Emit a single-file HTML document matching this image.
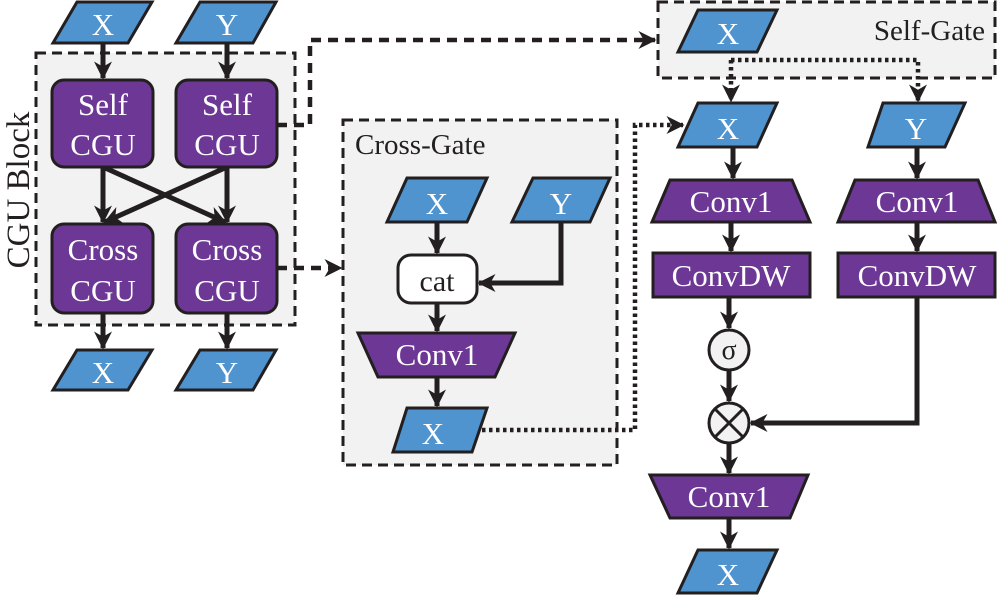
<!DOCTYPE html>
<html><head><meta charset="utf-8"><style>
html,body{margin:0;padding:0;background:#fff}
svg{display:block}
svg text{font-family:"Liberation Serif","Times New Roman","DejaVu Serif",serif}
</style></head><body>
<svg width="997" height="595" viewBox="0 0 997 595" xmlns="http://www.w3.org/2000/svg" font-family="'Liberation Serif', 'Times New Roman', 'DejaVu Serif', serif">
<defs>
<marker id="b" viewBox="0 0 12 12" refX="11" refY="6" markerWidth="18" markerHeight="18" markerUnits="userSpaceOnUse" orient="auto">
<path d="M0,0 L12,6 L0,12 L3.5,6 z" fill="#231f20"/>
</marker>
</defs>
<g stroke="#231f20" fill="none">
<rect x="36" y="53" width="259" height="272" fill="#f1f2f1" stroke-width="3" stroke-dasharray="10,6"/>
<rect x="343" y="120" width="274" height="345" fill="#f1f2f1" stroke-width="3" stroke-dasharray="10,6"/>
<rect x="658" y="2" width="337" height="76" fill="#f1f2f1" stroke-width="3" stroke-dasharray="10,6"/>
</g>
<g stroke="#231f20" stroke-width="5" fill="none">
<line x1="103" y1="43" x2="103" y2="78" marker-end="url(#b)"/>
<line x1="227" y1="43" x2="227" y2="78" marker-end="url(#b)"/>
<line x1="103" y1="167" x2="103" y2="222" marker-end="url(#b)"/>
<line x1="227" y1="167" x2="227" y2="222" marker-end="url(#b)"/>
<line x1="103" y1="167" x2="225" y2="222" marker-end="url(#b)"/>
<line x1="227" y1="167" x2="105" y2="222" marker-end="url(#b)"/>
<line x1="103" y1="313" x2="103" y2="348" marker-end="url(#b)"/>
<line x1="227" y1="313" x2="227" y2="348" marker-end="url(#b)"/>
<line x1="437" y1="222" x2="437" y2="253" marker-end="url(#b)"/>
<polyline points="561,222 561,283 479,283" marker-end="url(#b)"/>
<line x1="437" y1="303" x2="437" y2="331" marker-end="url(#b)"/>
<line x1="437" y1="377" x2="437" y2="406" marker-end="url(#b)"/>
<line x1="733" y1="147" x2="733" y2="178" marker-end="url(#b)"/>
<line x1="917" y1="147" x2="917" y2="178" marker-end="url(#b)"/>
<line x1="731" y1="222" x2="731" y2="251" marker-end="url(#b)"/>
<line x1="917" y1="222" x2="917" y2="251" marker-end="url(#b)"/>
<line x1="729" y1="297" x2="729" y2="328" marker-end="url(#b)"/>
<line x1="729" y1="370" x2="729" y2="401" marker-end="url(#b)"/>
<polyline points="917,297 917,423 751,423" marker-end="url(#b)"/>
<line x1="729" y1="443" x2="729" y2="473" marker-end="url(#b)"/>
<line x1="729" y1="518" x2="729" y2="548" marker-end="url(#b)"/>
</g>
<g stroke="#231f20" stroke-width="4.5" fill="none">
<polyline points="277,125 310,125 310,40 655,40" stroke-dasharray="10,7" marker-end="url(#b)"/>
<polyline points="277,268 341,268" stroke-dasharray="10,7" marker-end="url(#b)"/>
<polyline points="482,430 635,430 635,125 683,125" stroke-dasharray="3.5,3.5" marker-end="url(#b)"/>
<polyline points="731,60 731,101" stroke-dasharray="3.5,3.5" marker-end="url(#b)"/>
<polyline points="731,60 918,60 918,101" stroke-dasharray="3.5,3.5" marker-end="url(#b)"/>
</g>
<g fill="#4f93cf" stroke="#231f20" stroke-width="3">
<polygon points="77,2 152,2 128,43 53,43"/>
<polygon points="200,2 276,2 253,43 176,43"/>
<polygon points="77,350 152,350 128,390 53,390"/>
<polygon points="200,350 276,350 253,390 176,390"/>
<polygon points="407,178 487,178 467,222 387,222"/>
<polygon points="533,178 610,178 590,222 512,222"/>
<polygon points="407,408 487,408 472,452 393,452"/>
<polygon points="698,10 777,10 757,52 678,52"/>
<polygon points="698,103 777,103 757,147 678,147"/>
<polygon points="883,103 965,103 945,147 868,147"/>
<polygon points="698,550 777,550 757,593 678,593"/>
</g>
<g fill="#6c3795" stroke="#231f20" stroke-width="3">
<rect x="52" y="80" width="101" height="87" rx="12"/>
<rect x="176" y="80" width="101" height="87" rx="12"/>
<rect x="52" y="224" width="101" height="89" rx="12"/>
<rect x="176" y="224" width="101" height="89" rx="12"/>
<polygon points="358,333 515,333 495,377 378,377"/>
<polygon points="670,180 792,180 810,222 652,222"/>
<polygon points="855,180 978,180 995,222 838,222"/>
<rect x="653" y="253" width="157" height="44"/>
<rect x="838" y="253" width="157" height="44"/>
<polygon points="650,475 808,475 790,518 670,518"/>
</g>
<rect x="398" y="255" width="79" height="48" rx="13" fill="#fff" stroke="#231f20" stroke-width="3"/>
<circle cx="729" cy="350" r="20" fill="#f1f2f1" stroke="#231f20" stroke-width="3"/>
<circle cx="729" cy="423" r="20" fill="#f1f2f1" stroke="#231f20" stroke-width="3"/>
<g stroke="#231f20" stroke-width="3"><line x1="715" y1="409" x2="743" y2="437"/><line x1="743" y1="409" x2="715" y2="437"/></g>
<g fill="#fff" font-size="31" text-anchor="middle">
<text x="103" y="35">X</text><text x="227" y="35">Y</text>
<text x="103" y="383">X</text><text x="227" y="383">Y</text>
<text x="437" y="214">X</text><text x="561" y="214">Y</text>
<text x="433" y="444">X</text>
<text x="728" y="44">X</text>
<text x="728" y="139">X</text><text x="916" y="139">Y</text>
<text x="728" y="585">X</text>
<text x="103" y="115">Self</text><text x="103" y="155">CGU</text>
<text x="227" y="115">Self</text><text x="227" y="155">CGU</text>
<text x="103" y="260">Cross</text><text x="103" y="301">CGU</text>
<text x="227" y="260">Cross</text><text x="227" y="301">CGU</text>
<text x="437" y="365">Conv1</text>
<text x="731" y="212">Conv1</text><text x="917" y="212">Conv1</text>
<text x="731" y="286">ConvDW</text><text x="917" y="286">ConvDW</text>
<text x="729" y="507">Conv1</text>
</g>
<g fill="#231f20" font-size="30">
<text x="437" y="291" text-anchor="middle">cat</text>
<text x="729" y="359" text-anchor="middle" font-size="28">σ</text>
<text x="355" y="154" font-size="29">Cross-Gate</text>
<text x="985" y="40" font-size="29" text-anchor="end">Self-Gate</text>
<text transform="translate(29,190) rotate(-90)" text-anchor="middle" font-size="33">CGU Block</text>
</g>
</svg>
</body></html>
